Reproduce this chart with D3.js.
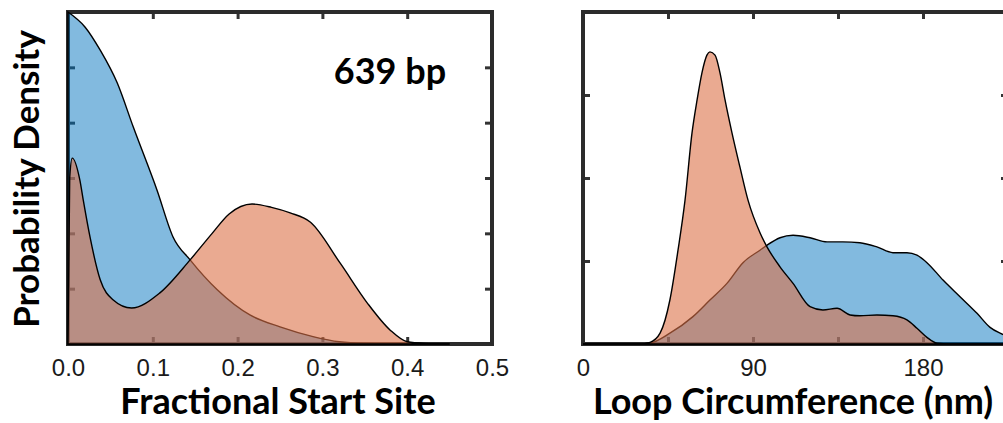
<!DOCTYPE html>
<html>
<head>
<meta charset="utf-8">
<script src="https://cdn.jsdelivr.net/npm/d3@7/dist/d3.min.js"></script>
<style>
  body { margin: 0; background: #fff; }
  .tick line { stroke: #333; stroke-width: 3; }
  .ticklabel text { font-family: "Liberation Sans", Arial, sans-serif; font-size: 24px; fill: #1a1a1a; }
  .title { font-family: Lato, "Open Sans", sans-serif; font-weight: 700; fill: #000; }
</style>
</head>
<body>
<div id="chart"></div>
<script>
// left panel - fractional start site (639 bp)
var startBlueX = [0, 0.02, 0.038, 0.058, 0.077, 0.105, 0.124, 0.144, 0.176, 0.215, 0.25, 0.29, 0.32, 0.35, 0.4, 0.45];
var startBlueY = [6.0, 5.73, 5.31, 4.72, 3.92, 2.78, 1.93, 1.52, 0.98, 0.52, 0.31, 0.13, 0.04, 0.01, 0, 0];
var startOrangeX = [0, 0.002, 0.005, 0.014, 0.018, 0.026, 0.038, 0.053, 0.075, 0.108, 0.144, 0.17, 0.19, 0.217, 0.24, 0.262, 0.286, 0.321, 0.353, 0.38, 0.4, 0.42, 0.45];
var startOrangeY = [0, 3.0, 3.36, 2.96, 2.6, 1.93, 1.16, 0.8, 0.65, 0.92, 1.52, 2.0, 2.35, 2.53, 2.47, 2.37, 2.2, 1.46, 0.74, 0.25, 0.04, 0.01, 0];
var startTicks = [0, 0.1, 0.2, 0.3, 0.4, 0.5];
var startTickLabels = ["0.0", "0.1", "0.2", "0.3", "0.4", "0.5"];
var startYTicks = [1, 2, 3, 4, 5];

// right panel - loop circumference
var loopBlueX = [0, 30, 35.5, 46, 58.2, 67.2, 76.2, 84.7, 93.7, 97.4, 104.3, 111.2, 120.2, 129.2, 137.6, 146.6, 155.6, 164.1, 171.5, 176.8, 182.1, 190.6, 199.6, 208.6, 215.5, 220.8, 225];
var loopBlueY = [0, 0, 0.01, 0.13, 0.33, 0.53, 0.73, 0.98, 1.13, 1.19, 1.28, 1.31, 1.28, 1.23, 1.23, 1.22, 1.17, 1.10, 1.10, 1.07, 0.98, 0.77, 0.57, 0.37, 0.20, 0.13, 0.09];
var loopOrangeX = [0, 30, 35.5, 40.8, 46, 50.3, 54, 57.7, 60.4, 63, 65.6, 67.2, 69.9, 72.5, 75.2, 78.9, 83.1, 87.4, 93.7, 97.4, 104.3, 111.2, 120.2, 127, 134.5, 141.4, 146.6, 155.6, 164.1, 171.5, 176.8, 182.1, 187.4, 194, 225];
var loopOrangeY = [0, 0, 0.02, 0.13, 0.53, 1.13, 1.73, 2.54, 2.94, 3.27, 3.48, 3.52, 3.48, 3.27, 2.94, 2.54, 2.13, 1.73, 1.34, 1.17, 0.93, 0.73, 0.45, 0.41, 0.43, 0.35, 0.34, 0.35, 0.34, 0.29, 0.19, 0.08, 0.01, 0, 0];
var loopTicks = [0, 45, 90, 135, 180, 225];
var loopLabelTicks = [0, 90, 180];
var loopTickLabels = ["0", "90", "180"];
var loopYTicks = [1, 2, 3];

(function () {
	var width = 1003, height = 423;

	var svg = d3.select("#chart")
		.append("svg")
		.attr("width", width)
		.attr("height", height);

	function zip(xs, ys) {
		return xs.map(function (x, i) { return [x, ys[i]]; });
	}

	function panel(o) {
		var x = d3.scaleLinear().domain(o.xDomain).range([o.left, o.right]);
		var y = d3.scaleLinear().domain(o.yDomain).range([o.bottom, o.top]);
		var g = svg.append("g");

		// axes sit under the fills, like the original
		g.append("g").attr("transform", "translate(0," + o.bottom + ")")
			.call(d3.axisBottom(x).tickValues(o.ticks).tickSize(-7).tickFormat(""));
		g.append("g").attr("transform", "translate(0," + o.top + ")")
			.call(d3.axisTop(x).tickValues(o.ticks).tickSize(-7).tickFormat(""));
		g.append("g").attr("transform", "translate(" + o.left + ",0)")
			.call(d3.axisLeft(y).tickValues(o.yTicks).tickSize(-7).tickFormat(""));
		g.append("g").attr("transform", "translate(" + o.right + ",0)")
			.call(d3.axisRight(y).tickValues(o.yTicks).tickSize(-7).tickFormat(""));
		g.selectAll(".domain").remove();

		g.append("rect")
			.attr("x", o.left).attr("y", o.top)
			.attr("width", o.right - o.left).attr("height", o.bottom - o.top)
			.attr("fill", "none").attr("stroke", "#2b2b2b").attr("stroke-width", 4);

		g.append("g").attr("class", "ticklabel")
			.attr("transform", "translate(0," + o.bottom + ")")
			.call(d3.axisBottom(x).tickValues(o.labelTicks).tickSize(0).tickPadding(15)
				.tickFormat(function (d, i) { return o.labels[i]; }))
			.select(".domain").remove();

		var area = d3.area()
			.x(function (d) { return x(d[0]); })
			.y0(y(0))
			.y1(function (d) { return y(d[1]); })
			.curve(d3.curveMonotoneX);

		g.append("path").datum(o.blue)
			.attr("d", area)
			.attr("fill", "#0072bd").attr("fill-opacity", 0.49)
			.attr("stroke", "#000").attr("stroke-width", 1.4);

		g.append("path").datum(o.orange)
			.attr("d", area)
			.attr("fill", "#dc7148").attr("fill-opacity", 0.6)
			.attr("stroke", "#000").attr("stroke-width", 1.4);

		g.append("text").attr("class", "title")
			.attr("x", o.titleX).attr("y", 414)
			.attr("text-anchor", "middle").attr("font-size", 36)
			.text(o.xTitle);
	}

	panel({
		left: 68, right: 492, top: 12, bottom: 344,
		xDomain: [0, 0.5], yDomain: [0, 6],
		ticks: startTicks, labelTicks: startTicks, labels: startTickLabels, yTicks: startYTicks,
		blue: zip(startBlueX, startBlueY), orange: zip(startOrangeX, startOrangeY),
		xTitle: "Fractional Start Site", titleX: 278
	});

	panel({
		left: 583, right: 1008, top: 12, bottom: 344,
		xDomain: [0, 225], yDomain: [0, 4],
		ticks: loopTicks, labelTicks: loopLabelTicks, labels: loopTickLabels, yTicks: loopYTicks,
		blue: zip(loopBlueX, loopBlueY), orange: zip(loopOrangeX, loopOrangeY),
		xTitle: "Loop Circumference (nm)", titleX: 793
	});

	svg.append("text").attr("class", "title")
		.attr("transform", "translate(39,179) rotate(-90)")
		.attr("text-anchor", "middle").attr("font-size", 35)
		.text("Probability Density");

	svg.append("text").attr("class", "title")
		.attr("x", 390).attr("y", 84)
		.attr("text-anchor", "middle").attr("font-size", 36)
		.text("639 bp");
})();
</script>
</body>
</html>
